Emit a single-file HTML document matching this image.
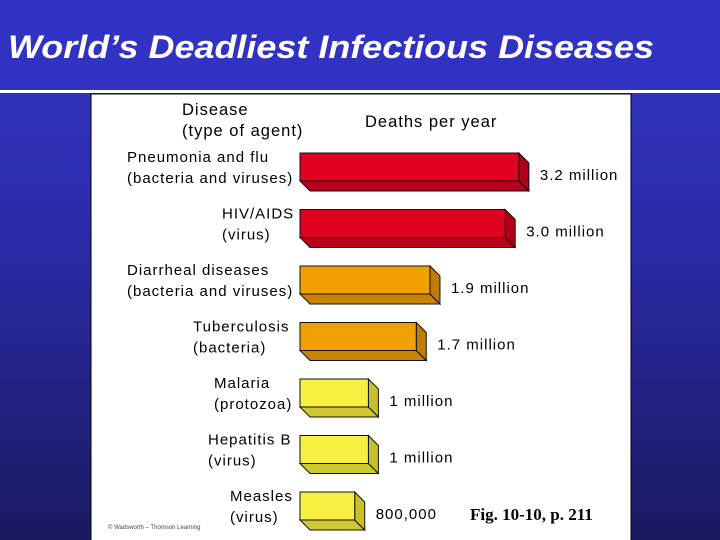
<!DOCTYPE html>
<html><head><meta charset="utf-8">
<style>
html,body{margin:0;padding:0;}
body{width:720px;height:540px;overflow:hidden;font-family:"Liberation Sans",sans-serif;}
svg{display:block}
</style></head>
<body>
<svg id="chart" width="720" height="540" viewBox="0 0 720 540">
<defs>
<linearGradient id="bg" x1="0" y1="0" x2="0" y2="1">
<stop offset="0" stop-color="#3236c4"/>
<stop offset="0.45" stop-color="#2a2aa8"/>
<stop offset="1" stop-color="#1a1a60"/>
</linearGradient>
</defs>
<rect x="0" y="0" width="720" height="540" fill="url(#bg)"/>
<rect x="0" y="0" width="720" height="90" fill="#3232c2"/>
<rect x="0" y="90" width="720" height="3" fill="#ffffff"/>
<text x="8" y="58" font-size="32" font-style="italic" font-weight="bold" fill="#ffffff" textLength="646" lengthAdjust="spacingAndGlyphs">World’s Deadliest Infectious Diseases</text>
<rect x="91" y="94" width="540" height="450" fill="#ffffff" stroke="#000" stroke-width="1"/>
<g font-size="16.5" fill="#000" letter-spacing="1">
<text x="182" y="115">Disease</text>
<text x="182" y="136">(type of agent)</text>
<text x="365" y="127">Deaths per year</text>
</g>
<g id="bars"></g>
<text x="108" y="529" font-size="6" fill="#444">© Wadsworth – Thomson Learning</text>
<text x="470" y="520" font-size="17" font-weight="bold" font-family="Liberation Serif, serif" fill="#000">Fig. 10-10, p. 211</text>
</svg>
<script>
const diseases = ["Pneumonia and flu", "HIV/AIDS", "Diarrheal diseases", "Tuberculosis", "Malaria", "Hepatitis B", "Measles"];
const agents = ["(bacteria and viruses)", "(virus)", "(bacteria and viruses)", "(bacteria)", "(protozoa)", "(virus)", "(virus)"];
const deaths = [3.2, 3.0, 1.9, 1.7, 1.0, 1.0, 0.8];
const valueLabels = ["3.2 million", "3.0 million", "1.9 million", "1.7 million", "1 million", "1 million", "800,000"];
const colorGroups = ["red", "red", "orange", "orange", "yellow", "yellow", "yellow"];

const palette = {
  red: {front: "#e00020", side: "#b00018", bottom: "#b8001c"},
  orange: {front: "#f0a000", side: "#c07e00", bottom: "#c88400"},
  yellow: {front: "#f8f040", side: "#c8c028", bottom: "#d0c830"}
};
const x0 = 300, scale = 68.4, top0 = 153, step = 56.5, h = 28, d = 10;
const labelX = [127, 222, 127, 193, 214, 208, 230];
const xScale = v => x0 + v * scale;
const yScale = i => top0 + i * step;
const ns = "http://www.w3.org/2000/svg";
const g = document.getElementById("bars");
function mk(tag, attrs){const e=document.createElementNS(ns,tag);for(const k in attrs)e.setAttribute(k,attrs[k]);return e;}
deaths.forEach((v,i)=>{
  const y = yScale(i), x1 = xScale(v), c = palette[colorGroups[i]];
  const grp = mk("g",{});
  
  
  const bottom = mk("polygon",{points:`${x0},${y+h} ${x1},${y+h} ${x1+d},${y+h+d} ${x0+d},${y+h+d}`,fill:c.bottom,stroke:"#111","stroke-width":"1"});
  const side = mk("polygon",{points:`${x1},${y} ${x1+d},${y+d} ${x1+d},${y+h+d} ${x1},${y+h}`,fill:c.side,stroke:"#111","stroke-width":"1"});
  const front = mk("rect",{x:x0,y:y,width:x1-x0,height:h,fill:c.front,stroke:"#111","stroke-width":"1"});
  grp.appendChild(bottom);grp.appendChild(side);grp.appendChild(front);
  g.appendChild(grp);
  const val = mk("text",{x:x1+d+11,y:y+27,"font-size":"15","letter-spacing":"1",fill:"#000"});
  val.textContent = valueLabels[i];
  
  
  g.appendChild(val);
  const l1 = mk("text",{x:labelX[i],y:y+9,"font-size":"15","letter-spacing":"1",fill:"#000"});
  l1.textContent = diseases[i];
  
  
  g.appendChild(l1);
  const l2 = mk("text",{x:labelX[i],y:y+30,"font-size":"15","letter-spacing":"1",fill:"#000"});
  l2.textContent = agents[i];
  
  
  g.appendChild(l2);
});
</script>
</body></html>
